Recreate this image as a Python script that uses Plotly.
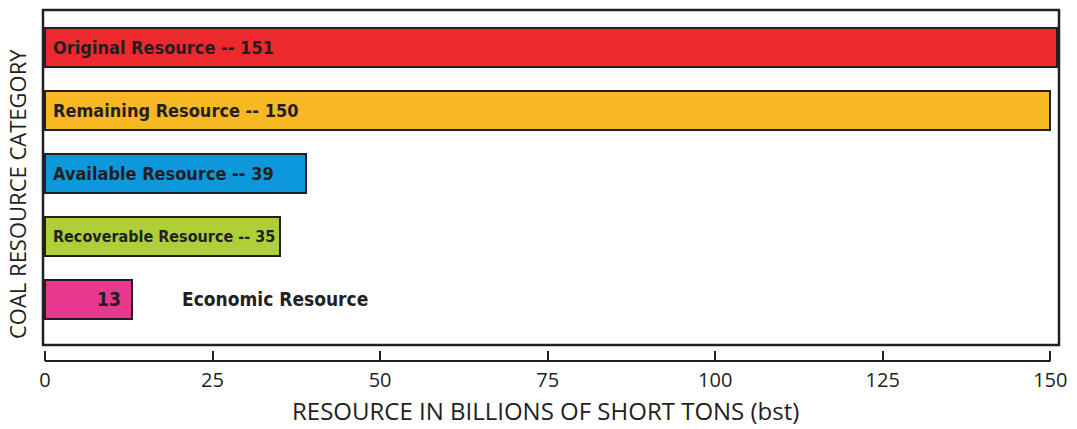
import plotly.graph_objects as go

# Coal resource categories, from largest to smallest
categories = ["Original Resource", "Remaining Resource", "Available Resource",
              "Recoverable Resource", "Economic Resource"]
values = [151, 150, 39, 35, 13]
bar_colors = ["#EC2A2E", "#F7B823", "#0C98DA", "#AECF37", "#E8388E"]
tick_values = [0, 25, 50, 75, 100, 125, 150]

INK = "#231F20"
LABEL_FONT = "DejaVu Sans Condensed, DejaVu Sans, sans-serif"
TITLE_FONT = "Open Sans, Noto Sans, sans-serif"

# numeric rows: Economic at the bottom (0), Original at the top (4)
rows = list(range(len(categories)))[::-1]

fig = go.Figure(go.Bar(
    x=values,
    y=rows,
    base=0,
    orientation="h",
    width=0.62,
    marker=dict(color=bar_colors, line=dict(color=INK, width=2)),
    hoverinfo="skip",
))

annotations = []
for cat, val, row in zip(categories, values, rows):
    if cat == "Economic Resource":
        # value inside the short bar, name to its right
        annotations.append(dict(x=val * 0.74, y=row, text=f"<b>{val}</b>",
                                xanchor="center", yanchor="middle", showarrow=False,
                                font=dict(family=LABEL_FONT, size=19, color=INK)))
        annotations.append(dict(x=20.2, y=row, text=f"<b>{cat}</b>",
                                xanchor="left", yanchor="middle", showarrow=False,
                                font=dict(family=LABEL_FONT, size=19, color=INK)))
    else:
        # the longest label is set a touch smaller so it stays inside its bar
        size = 16 if cat == "Recoverable Resource" else 18
        annotations.append(dict(x=0.9, y=row, text=f"<b>{cat} -- {val}</b>",
                                xanchor="left", yanchor="middle", showarrow=False,
                                font=dict(family=LABEL_FONT, size=size, color=INK)))

annotations.append(dict(xref="paper", yref="paper", x=0.495, y=-0.14,
                        text="RESOURCE IN BILLIONS OF SHORT TONS (bst)",
                        xanchor="center", yanchor="middle", showarrow=False,
                        font=dict(family=TITLE_FONT, size=24, color=INK)))
annotations.append(dict(xref="paper", yref="paper", x=-0.0255, y=0.476,
                        text="COAL RESOURCE CATEGORY", textangle=-90,
                        xanchor="center", yanchor="middle", showarrow=False,
                        font=dict(family=TITLE_FONT, size=22, color=INK)))

box_bottom = 0.0456
shapes = [
    # frame around the bars
    dict(type="rect", xref="paper", yref="paper", x0=0, x1=1, y0=box_bottom, y1=1,
         line=dict(color=INK, width=2.5), fillcolor="rgba(0,0,0,0)", layer="above"),
    # value axis line spanning 0..150
    dict(type="line", xref="x", yref="paper", x0=0, x1=150, y0=0, y1=0,
         line=dict(color=INK, width=2)),
]

fig.update_layout(
    width=1077, height=429,
    margin=dict(l=43, r=13, t=10, b=68),
    paper_bgcolor="white", plot_bgcolor="white",
    showlegend=False,
    bargap=0,
    xaxis=dict(range=[-0.3, 151.3], tickvals=tick_values, ticks="inside",
               ticklen=10, tickwidth=2, tickcolor=INK, showline=False,
               showgrid=False, zeroline=False, anchor="free", position=0,
               ticklabelstandoff=5,
               tickfont=dict(family=TITLE_FONT, size=20, color=INK)),
    yaxis=dict(range=[-0.73, 4.6], domain=[box_bottom, 1], showticklabels=False,
               showgrid=False, zeroline=False, ticks=""),
    annotations=annotations,
    shapes=shapes,
)

fig.write_html("out.html")
